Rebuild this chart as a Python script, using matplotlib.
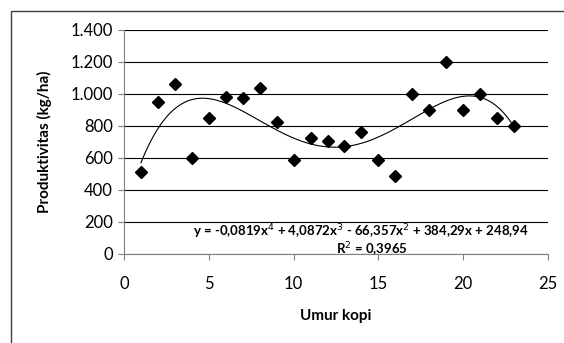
"""
Produktivitas vs umur kopi, scatter + polynomial trendline
"""

import matplotlib.pyplot as plt
import numpy as np
from matplotlib.patches import Rectangle

plt.rcParams['font.family'] = ['Lato', 'DejaVu Sans']

# data
umur = [1, 2, 3, 4, 5, 6, 7, 8, 9, 10, 11, 12, 13, 14, 15, 16, 17, 18, 19, 20, 21, 22, 23]
produktivitas = [510, 950, 1065, 600, 850, 980, 975, 1035, 825, 590, 725, 705,
                 675, 765, 585, 490, 1000, 900, 1200, 900, 1000, 850, 800]
# trendline coefficients as printed on the chart (x^4 ... x^0)
koef = [-0.0819, 4.0872, -66.357, 384.29, 248.94]
eq_text = r"y = -0,0819x$^4$ + 4,0872x$^3$ - 66,357x$^2$ + 384,29x + 248,94"
r2_text = r"R$^2$ = 0,3965"
x_ticks = [0, 5, 10, 15, 20, 25]
y_ticks = [0, 200, 400, 600, 800, 1000, 1200, 1400]
y_labels = ['0', '200', '400', '600', '800', '1.000', '1.200', '1.400']

fig = plt.figure(figsize=(5.64, 3.43), dpi=100)

# outer chart frame (partly cut off right/bottom)
fig.patches.append(Rectangle((11/564, -0.1), 1.2, 1 - 11/343 + 0.1,
                             transform=fig.transFigure, fill=False,
                             edgecolor='#404040', lw=1.0))

ax = fig.add_axes([124/564, 1 - 254/343, 424/564, 224/343])

# trendline
xs = np.linspace(min(umur), max(umur), 300)
ax.plot(xs, np.polyval(koef, xs), color='black', lw=0.8, zorder=2)

# points
ax.plot(umur, produktivitas, linestyle='none', marker='D', markersize=6,
        color='black', zorder=3)

ax.set_xlim(0, 25)
ax.set_ylim(0, 1400)
ax.set_xticks(x_ticks)
ax.set_yticks(y_ticks)
ax.set_yticklabels(y_labels)
ax.grid(axis='y', color='black', lw=0.8)
ax.set_axisbelow(True)

for s in ['top', 'right']:
    ax.spines[s].set_visible(False)
for s in ['left', 'bottom']:
    ax.spines[s].set_color('#808080')
ax.tick_params(axis='both', direction='out', length=4, color='#808080',
               labelsize=12, pad=4)
ax.tick_params(axis='x', pad=12)

ax.set_xlabel('Umur kopi', fontsize=11, fontweight='bold', labelpad=12)
ax.set_ylabel('Produktivitas (kg/ha)', fontsize=11, fontweight='bold', labelpad=13)

ax.text(23.9, 140, eq_text, fontsize=9.5, fontweight='bold', ha='right', va='center')
ax.text(14.6, 28, r2_text, fontsize=9.5, fontweight='bold', ha='center', va='center')

fig.savefig('out.png', dpi=100)
